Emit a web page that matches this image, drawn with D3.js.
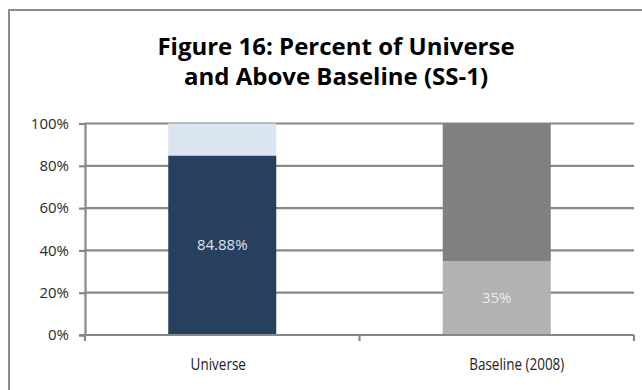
<!DOCTYPE html>
<html>
<head>
<meta charset="utf-8">
<script src="https://cdn.jsdelivr.net/npm/d3@7"></script>
<style>
  html, body { margin: 0; padding: 0; background: #fff; overflow: hidden; }
  svg { display: block; overflow: hidden; }
</style>
</head>
<body>
<svg id="chart" width="642" height="390"></svg>
<script>
// ---- data ----
const categories = ["Universe", "Baseline (2008)"];
const lowerValues = [84.88, 35];          // percent, bottom segment
const upperValues = [15.12, 65];          // percent, remainder up to 100
const lowerLabels = ["84.88%", "35%"];
const yTicks = [0, 20, 40, 60, 80, 100];
const titleLines = ["Figure 16: Percent of Universe", "and Above Baseline (SS-1)"];

// ---- styles ----
const lowerColors = ["#274060", "#b2b2b2"];
const upperColors = ["#dbe5f1", "#808080"];
const labelColors = ["#dde3ec", "#ececec"];
const gridColor = "#888888";

const svg = d3.select("#chart");

// frame (top and left edges visible; the rest lies outside the picture)
svg.append("path")
  .attr("d", "M9,390V10H642")
  .attr("fill", "none").attr("stroke", "#8c8c8c").attr("stroke-width", 2);

const margin = { left: 85, right: 634, top: 123.5, bottom: 335 };

const x = d3.scaleBand().domain(categories).range([margin.left, margin.right])
  .paddingInner(0.6065).paddingOuter(0.3033);
const y = d3.scaleLinear().domain([0, 100]).range([margin.bottom, margin.top]);

// title
const title = svg.append("g").attr("font-family", "'Open Sans', sans-serif")
  .attr("font-weight", "bold").attr("font-size", 24).attr("fill", "#000");
titleLines.forEach((t, i) => {
  title.append("text")
    .attr("transform", `translate(336,${54.5 + i * 30.5}) scale(1.0,1)`)
    .attr("text-anchor", "middle").text(t);
});

// gridlines
svg.append("g").selectAll("line").data(yTicks.filter(d => d > 0)).join("line")
  .attr("x1", margin.left).attr("x2", margin.right)
  .attr("y1", d => y(d)).attr("y2", d => y(d))
  .attr("stroke", gridColor).attr("stroke-width", 2.2);

// y axis
const yAxis = svg.append("g").attr("transform", `translate(${margin.left},0)`)
  .call(d3.axisLeft(y).tickValues(yTicks).tickFormat(d => d + "%").tickSize(6).tickPadding(10));
yAxis.select(".domain").attr("stroke", gridColor).attr("stroke-width", 2.2);
yAxis.selectAll(".tick line").attr("stroke", gridColor).attr("stroke-width", 2.2);
yAxis.selectAll(".tick text").attr("font-family", "'Open Sans', sans-serif")
  .attr("font-size", 15).attr("fill", "#2a2a2a");

// bars
const bars = svg.append("g");
bars.selectAll("rect.lower").data(categories).join("rect").attr("class", "lower")
  .attr("x", d => x(d)).attr("width", x.bandwidth())
  .attr("y", (d, i) => y(lowerValues[i]))
  .attr("height", (d, i) => y(0) - y(lowerValues[i]))
  .attr("fill", (d, i) => lowerColors[i]);
bars.selectAll("rect.upper").data(categories).join("rect").attr("class", "upper")
  .attr("x", d => x(d)).attr("width", x.bandwidth())
  .attr("y", (d, i) => y(lowerValues[i] + upperValues[i]))
  .attr("height", (d, i) => y(lowerValues[i]) - y(lowerValues[i] + upperValues[i]))
  .attr("fill", (d, i) => upperColors[i]);

// bar labels
bars.selectAll("text").data(categories).join("text")
  .attr("x", d => x(d) + x.bandwidth() / 2)
  .attr("y", (d, i) => (y(0) + y(lowerValues[i])) / 2)
  .attr("dy", "0.35em").attr("text-anchor", "middle")
  .attr("font-family", "'Open Sans', sans-serif").attr("font-size", 15)
  .attr("fill", (d, i) => labelColors[i])
  .text((d, i) => lowerLabels[i]);

// x axis
const xAxisG = svg.append("g").attr("transform", `translate(0,${margin.bottom})`);
xAxisG.append("line").attr("x1", margin.left - 6).attr("x2", margin.right)
  .attr("stroke", gridColor).attr("stroke-width", 2.2);
const edges = [margin.left, (margin.left + margin.right) / 2, margin.right];
xAxisG.selectAll("line.t").data(edges).join("line").attr("class", "t")
  .attr("x1", d => d).attr("x2", d => d).attr("y1", 0).attr("y2", 6)
  .attr("stroke", gridColor).attr("stroke-width", 2.2);
const labelShift = d => (d === categories[0] ? -4 : 20);
xAxisG.selectAll("text").data(categories).join("text")
  .attr("transform", d => `translate(${x(d) + x.bandwidth() / 2 + labelShift(d)},35) scale(0.87,1)`)
  .attr("text-anchor", "middle")
  .attr("font-family", "'Open Sans', sans-serif").attr("font-size", 15.5)
  .attr("fill", "#222").text(d => d);
</script>
</body>
</html>
